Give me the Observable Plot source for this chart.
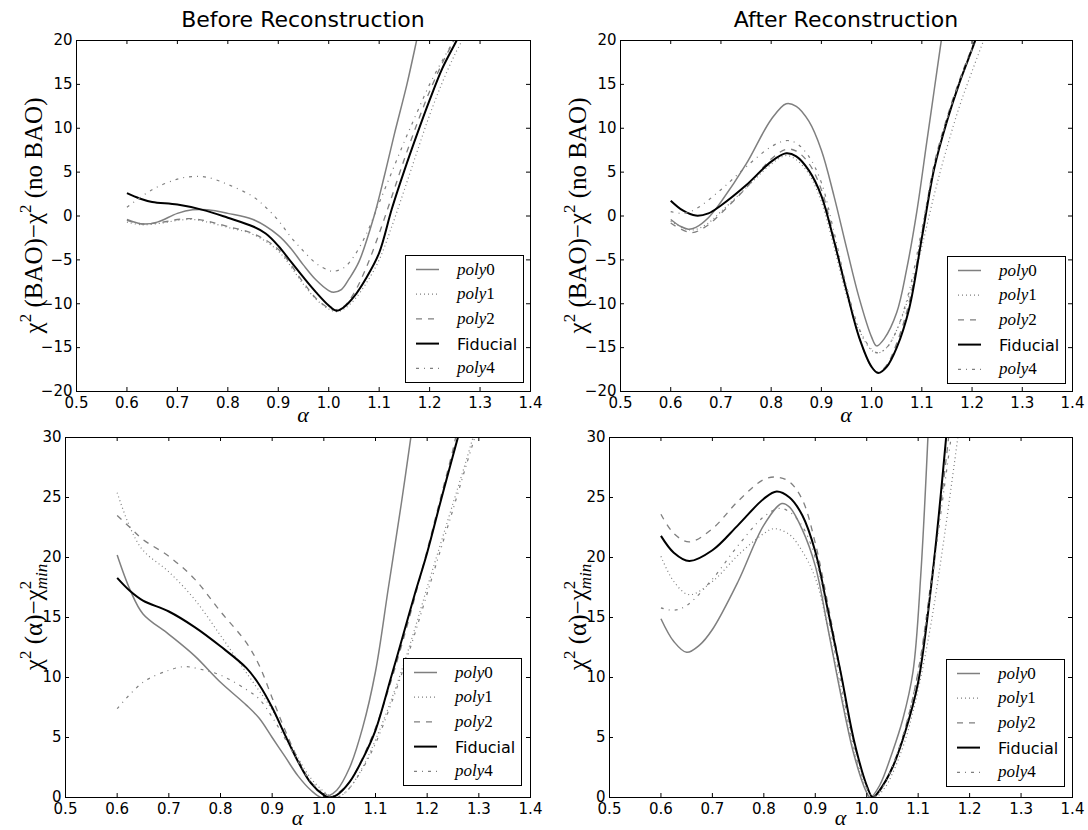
<!DOCTYPE html>
<html>
<head>
<meta charset="utf-8">
<script src="https://cdn.jsdelivr.net/npm/d3@7"></script>
<script src="https://cdn.jsdelivr.net/npm/@observablehq/plot@0.6"></script>
<style>
  body { margin: 0; background: #fff; }
  #root { position: relative; width: 1088px; height: 830px; overflow: hidden; background: #fff; }
  .panel { position: absolute; }
  .panel svg { max-width: none !important; }
  .legend { position: absolute; }
  #overlay { position: absolute; left: 0; top: 0; pointer-events: none; }
</style>
</head>
<body>
<div id="root"></div>
<script>
// ---------------- data ----------------
const alphaTicks = [0.5, 0.6, 0.7, 0.8, 0.9, 1.0, 1.1, 1.2, 1.3, 1.4];
const baoTicks = [-20, -15, -10, -5, 0, 5, 10, 15, 20];
const minTicks = [0, 5, 10, 15, 20, 25, 30];
const seriesNames = ["poly0", "poly1", "poly2", "Fiducial", "poly4"];
const panelTitles = ["Before Reconstruction", "After Reconstruction"];

// [alpha, chi2(BAO) - chi2(no BAO)] before reconstruction
const beforeBAO_poly0 = [[0.6,-0.4],[0.63,-0.9],[0.66,-0.7],[0.7,0.3],[0.73,0.7],[0.76,0.7],[0.8,0.3],[0.85,-0.4],[0.9,-2.2],[0.925,-3.7],[0.95,-5.6],[0.975,-7.3],[1.0,-8.5],[1.01,-8.7],[1.025,-8.4],[1.04,-7.2],[1.06,-5.2],[1.09,0.0],[1.11,4.5],[1.13,9.3],[1.155,15.0],[1.175,20.2],[1.18,21.5]];
const beforeBAO_poly1 = [[0.6,-0.7],[0.63,-1.0],[0.67,-0.8],[0.7,-0.5],[0.73,-0.4],[0.76,-0.7],[0.8,-1.3],[0.85,-2.1],[0.9,-4.0],[0.95,-7.8],[0.975,-9.5],[1.0,-10.6],[1.015,-10.9],[1.03,-10.6],[1.05,-9.6],[1.075,-7.6],[1.1,-5.0],[1.125,-1.2],[1.15,3.0],[1.175,7.3],[1.2,11.5],[1.225,15.2],[1.25,18.4],[1.27,20.6]];
const beforeBAO_poly2 = [[0.6,-0.5],[0.63,-0.9],[0.67,-0.7],[0.7,-0.4],[0.73,-0.3],[0.76,-0.6],[0.8,-1.2],[0.85,-2.0],[0.9,-3.8],[0.95,-7.6],[0.975,-9.4],[1.0,-10.5],[1.01,-10.7],[1.03,-10.3],[1.05,-8.8],[1.075,-5.8],[1.1,-2.0],[1.125,2.2],[1.15,6.5],[1.175,10.5],[1.2,14.2],[1.225,17.4],[1.25,20.2],[1.255,20.8]];
const beforeBAO_fid   = [[0.6,2.6],[0.625,2.0],[0.65,1.6],[0.7,1.3],[0.75,0.7],[0.8,-0.2],[0.85,-1.2],[0.875,-2.0],[0.9,-3.4],[0.925,-5.2],[0.95,-7.0],[0.975,-8.7],[1.0,-10.2],[1.015,-10.8],[1.03,-10.4],[1.05,-9.2],[1.075,-7.0],[1.1,-4.2],[1.125,0.8],[1.15,5.2],[1.175,9.3],[1.2,13.2],[1.225,16.8],[1.25,19.6],[1.26,20.7]];
const beforeBAO_poly4 = [[0.6,1.0],[0.65,3.0],[0.7,4.2],[0.73,4.5],[0.76,4.4],[0.8,3.6],[0.85,2.2],[0.875,1.0],[0.9,-0.5],[0.925,-2.4],[0.95,-4.0],[0.975,-5.4],[1.0,-6.2],[1.01,-6.3],[1.03,-5.9],[1.05,-4.6],[1.075,-2.0],[1.1,1.5],[1.125,5.0],[1.15,8.5],[1.175,11.8],[1.2,15.0],[1.225,17.7],[1.25,20.2],[1.26,21.2]];

// after reconstruction
const afterBAO_poly0 = [[0.6,-0.4],[0.62,-1.2],[0.635,-1.5],[0.65,-1.3],[0.675,-0.2],[0.7,1.6],[0.75,5.9],[0.8,11.0],[0.83,12.8],[0.85,12.5],[0.875,10.8],[0.9,7.5],[0.925,2.3],[0.95,-3.6],[0.975,-9.3],[1.0,-13.8],[1.01,-14.8],[1.025,-14.0],[1.05,-11.0],[1.07,-6.0],[1.09,0.5],[1.11,8.5],[1.125,14.5],[1.14,20.5],[1.145,22.5]];
const afterBAO_poly1 = [[0.6,-0.6],[0.64,-1.6],[0.67,-1.0],[0.7,0.5],[0.75,3.2],[0.8,5.9],[0.83,6.9],[0.85,6.4],[0.875,4.8],[0.9,1.6],[0.925,-3.5],[0.95,-9.0],[0.975,-13.0],[1.0,-15.3],[1.013,-15.6],[1.03,-15.0],[1.05,-13.0],[1.075,-9.0],[1.1,-3.5],[1.125,2.5],[1.15,7.8],[1.175,12.5],[1.2,16.5],[1.225,20.3]];
const afterBAO_poly2 = [[0.6,-0.8],[0.64,-1.9],[0.67,-1.2],[0.7,0.3],[0.75,3.2],[0.8,6.5],[0.83,7.6],[0.85,7.4],[0.875,6.0],[0.9,3.0],[0.925,-2.5],[0.95,-8.5],[0.975,-13.8],[1.0,-17.2],[1.013,-17.8],[1.03,-17.0],[1.05,-14.5],[1.075,-9.8],[1.1,-2.0],[1.125,6.0],[1.15,11.2],[1.175,15.5],[1.2,19.2],[1.21,20.6]];
const afterBAO_fid   = [[0.6,1.75],[0.625,0.6],[0.65,0.05],[0.675,0.3],[0.7,1.2],[0.75,3.5],[0.8,6.2],[0.83,7.15],[0.85,6.8],[0.875,5.2],[0.9,2.3],[0.925,-2.8],[0.95,-8.5],[0.975,-13.8],[1.0,-17.2],[1.013,-17.9],[1.03,-17.2],[1.05,-15.0],[1.075,-10.5],[1.1,-2.5],[1.125,5.5],[1.15,10.8],[1.175,15.2],[1.2,19.0],[1.21,20.6]];
const afterBAO_poly4 = [[0.6,0.5],[0.625,0.3],[0.65,0.8],[0.7,3.0],[0.75,5.6],[0.8,7.9],[0.83,8.6],[0.85,8.3],[0.875,6.8],[0.9,3.8],[0.925,-1.8],[0.95,-8.0],[0.975,-12.8],[1.0,-15.2],[1.013,-15.6],[1.03,-15.0],[1.05,-13.0],[1.075,-8.5],[1.1,-1.5],[1.125,5.8],[1.15,11.0],[1.175,15.3],[1.2,19.0],[1.21,20.5]];

// [alpha, chi2(alpha) - chi2_min] before reconstruction
const beforeMin_poly0 = [[0.6,20.2],[0.625,17.3],[0.65,15.3],[0.7,13.6],[0.75,11.8],[0.8,9.6],[0.85,7.7],[0.875,6.6],[0.9,5.0],[0.925,3.4],[0.95,1.8],[0.975,0.6],[0.995,0.0],[1.01,0.15],[1.025,0.6],[1.05,2.5],[1.075,5.8],[1.1,10.5],[1.125,17.5],[1.15,24.5],[1.17,30.5]];
const beforeMin_poly1 = [[0.6,25.4],[0.625,22.5],[0.65,20.6],[0.7,18.8],[0.75,16.5],[0.8,13.5],[0.85,10.4],[0.9,7.3],[0.925,5.3],[0.95,3.3],[0.975,1.6],[1.0,0.5],[1.02,0.0],[1.035,0.2],[1.05,0.8],[1.075,2.5],[1.1,4.8],[1.125,7.5],[1.15,10.5],[1.175,13.9],[1.2,17.5],[1.225,21.0],[1.25,24.5],[1.275,28.0],[1.29,30.2]];
const beforeMin_poly2 = [[0.6,23.5],[0.625,22.5],[0.65,21.5],[0.7,20.1],[0.75,18.2],[0.8,15.5],[0.85,12.9],[0.875,11.0],[0.9,8.3],[0.925,5.6],[0.95,3.2],[0.975,1.3],[1.0,0.25],[1.01,0.0],[1.025,0.3],[1.05,1.3],[1.075,3.3],[1.1,5.8],[1.125,9.0],[1.15,12.6],[1.175,16.5],[1.2,20.6],[1.225,24.8],[1.25,29.0],[1.256,30.2]];
const beforeMin_fid   = [[0.6,18.3],[0.625,17.2],[0.65,16.4],[0.7,15.5],[0.75,14.2],[0.8,12.6],[0.85,10.8],[0.875,9.4],[0.9,7.5],[0.925,5.2],[0.95,3.0],[0.975,1.2],[1.0,0.2],[1.01,0.0],[1.025,0.2],[1.05,1.3],[1.075,3.2],[1.1,5.6],[1.13,10.0],[1.15,13.0],[1.175,16.8],[1.2,20.4],[1.225,24.5],[1.25,28.5],[1.262,30.4]];
const beforeMin_poly4 = [[0.6,7.4],[0.65,9.6],[0.7,10.6],[0.73,10.9],[0.76,10.7],[0.8,10.2],[0.85,9.0],[0.875,8.2],[0.9,6.7],[0.925,4.9],[0.95,3.0],[0.975,1.3],[1.0,0.4],[1.02,0.0],[1.035,0.2],[1.05,0.8],[1.075,2.4],[1.1,4.5],[1.125,7.2],[1.15,10.2],[1.175,13.5],[1.2,17.0],[1.225,20.5],[1.25,24.0],[1.275,27.6],[1.295,30.4]];

// after reconstruction
const afterMin_poly0 = [[0.6,14.9],[0.625,13.0],[0.65,12.1],[0.675,12.7],[0.7,14.0],[0.75,18.0],[0.8,22.7],[0.835,24.5],[0.85,24.2],[0.875,22.3],[0.9,19.3],[0.925,14.0],[0.95,8.5],[0.975,3.6],[1.0,0.4],[1.007,0.0],[1.025,1.0],[1.05,3.8],[1.07,6.5],[1.09,10.5],[1.105,18.5],[1.12,31.0]];
const afterMin_poly1 = [[0.6,20.1],[0.625,18.0],[0.655,16.9],[0.7,18.0],[0.75,20.2],[0.8,22.0],[0.82,22.4],[0.85,21.9],[0.875,20.5],[0.9,18.3],[0.925,14.0],[0.95,8.8],[0.975,3.8],[1.0,0.7],[1.015,0.0],[1.035,0.8],[1.05,2.0],[1.075,4.8],[1.1,9.0],[1.125,14.5],[1.15,21.5],[1.178,30.3]];
const afterMin_poly2 = [[0.6,23.6],[0.625,22.0],[0.655,21.3],[0.7,22.4],[0.75,24.7],[0.8,26.5],[0.825,26.7],[0.85,26.3],[0.875,24.8],[0.9,21.2],[0.925,16.0],[0.95,10.3],[0.975,4.6],[1.0,1.0],[1.012,0.0],[1.03,0.8],[1.05,2.6],[1.075,5.8],[1.1,10.5],[1.125,18.0],[1.145,24.8],[1.16,30.3]];
const afterMin_fid   = [[0.6,21.8],[0.625,20.4],[0.655,19.7],[0.7,20.6],[0.75,22.7],[0.8,24.9],[0.825,25.5],[0.85,25.0],[0.875,23.5],[0.9,20.5],[0.925,15.5],[0.95,10.3],[0.975,4.8],[1.0,1.0],[1.012,0.0],[1.025,0.6],[1.05,2.5],[1.075,5.5],[1.1,9.6],[1.125,17.5],[1.14,23.5],[1.155,30.3]];
const afterMin_poly4 = [[0.6,15.8],[0.625,15.6],[0.65,16.0],[0.7,18.2],[0.75,21.0],[0.8,23.4],[0.83,24.1],[0.85,23.8],[0.875,22.6],[0.9,20.0],[0.925,15.0],[0.95,9.5],[0.975,4.2],[1.0,0.8],[1.012,0.0],[1.03,0.8],[1.05,2.6],[1.075,5.8],[1.1,10.5],[1.125,17.5],[1.145,24.0],[1.165,30.3]];

// ---------------- styles & layout ----------------
const GRAY = "#7f7f7f";
const TICK_FONT = "DejaVu Sans";
const TICK_SIZE = 15;
const lineStyles = {
  poly0:    {stroke: GRAY,   width: 1.5, dash: null},
  poly1:    {stroke: GRAY,   width: 1.2, dash: "1,3"},
  poly2:    {stroke: GRAY,   width: 1.3, dash: "6,6"},
  Fiducial: {stroke: "#000", width: 2.0, dash: null},
  poly4:    {stroke: GRAY,   width: 1.2, dash: "3,5,1,5"}
};

const panels = [
  {data: {poly0: beforeBAO_poly0, poly1: beforeBAO_poly1, poly2: beforeBAO_poly2, Fiducial: beforeBAO_fid, poly4: beforeBAO_poly4},
   yDomain: [-20, 20], yTicks: baoTicks, left: 0, top: 0, width: 544, height: 430, mt: 40, mr: 14, mb: 39, ml: 76,
   title: panelTitles[0], ylab: "bao", legend: [405, 255], xlabDy: 31},
  {data: {poly0: afterBAO_poly0, poly1: afterBAO_poly1, poly2: afterBAO_poly2, Fiducial: afterBAO_fid, poly4: afterBAO_poly4},
   yDomain: [-20, 20], yTicks: baoTicks, left: 544, top: 0, width: 544, height: 430, mt: 40, mr: 16, mb: 39, ml: 76,
   title: panelTitles[1], ylab: "bao", legend: [947, 256], xlabDy: 31},
  {data: {poly0: beforeMin_poly0, poly1: beforeMin_poly1, poly2: beforeMin_poly2, Fiducial: beforeMin_fid, poly4: beforeMin_poly4},
   yDomain: [0, 30], yTicks: minTicks, left: 0, top: 415, width: 544, height: 415, mt: 22, mr: 14, mb: 33, ml: 65,
   title: null, ylab: "min", legend: [403, 658], xlabDy: 28},
  {data: {poly0: afterMin_poly0, poly1: afterMin_poly1, poly2: afterMin_poly2, Fiducial: afterMin_fid, poly4: afterMin_poly4},
   yDomain: [0, 30], yTicks: minTicks, left: 544, top: 415, width: 544, height: 415, mt: 22, mr: 16, mb: 33, ml: 65,
   title: null, ylab: "min", legend: [946, 659], xlabDy: 28}
];

const minusFmt = d => d < 0 ? "\u2212" + Math.abs(d) : String(d);
const root = document.getElementById("root");

function makePlot(p) {
  const fw = p.width - p.ml - p.mr, fh = p.height - p.mt - p.mb;
  const marks = [];
  for (const name of seriesNames) {
    const s = lineStyles[name];
    marks.push(Plot.line(p.data[name], {
      x: d => d[0], y: d => d[1], curve: "catmull-rom", clip: true,
      stroke: s.stroke, strokeWidth: s.width, strokeDasharray: s.dash,
      strokeLinecap: "butt", strokeLinejoin: "round"
    }));
  }
  marks.push(Plot.frame({stroke: "#000", strokeWidth: 1}));
  marks.push(Plot.tickX(alphaTicks, {x: d => d, insetTop: fh - 4, stroke: "#000"}));
  marks.push(Plot.tickX(alphaTicks, {x: d => d, insetBottom: fh - 4, stroke: "#000"}));
  marks.push(Plot.tickY(p.yTicks, {y: d => d, insetRight: fw - 4, stroke: "#000"}));
  marks.push(Plot.tickY(p.yTicks, {y: d => d, insetLeft: fw - 4, stroke: "#000"}));
  marks.push(Plot.axisX({ticks: alphaTicks, tickFormat: d3.format(".1f"), tickSize: 0, tickPadding: 6, anchor: "bottom", label: null,
    fontSize: TICK_SIZE, fontFamily: TICK_FONT, fill: "#000"}));
  marks.push(Plot.axisY({ticks: p.yTicks, tickFormat: minusFmt, tickSize: 0, tickPadding: 4, anchor: "left", label: null,
    fontSize: TICK_SIZE, fontFamily: TICK_FONT, fill: "#000"}));
  const svg = Plot.plot({
    width: p.width, height: p.height,
    marginTop: p.mt, marginRight: p.mr, marginBottom: p.mb, marginLeft: p.ml,
    x: {domain: [0.5, 1.4]},
    y: {domain: p.yDomain},
    style: {fontFamily: TICK_FONT, fontSize: TICK_SIZE + "px", color: "#000", background: "transparent", overflow: "visible"},
    marks
  });
  svg.setAttribute("font-family", TICK_FONT);
  svg.setAttribute("font-size", TICK_SIZE);
  d3.select(svg).selectAll("text")
    .attr("font-family", TICK_FONT).attr("font-size", TICK_SIZE)
    .style("font-family", TICK_FONT).style("font-size", TICK_SIZE + "px");
  d3.select(svg).selectAll("g[aria-label$='tick label']")
    .attr("font-family", TICK_FONT).attr("font-size", TICK_SIZE)
    .style("font-family", TICK_FONT).style("font-size", TICK_SIZE + "px");
  return svg;
}

for (const p of panels) {
  const el = makePlot(p);
  const wrap = document.createElement("div");
  wrap.className = "panel";
  wrap.style.left = p.left + "px";
  wrap.style.top = p.top + "px";
  wrap.style.width = p.width + "px";
  wrap.style.height = p.height + "px";
  wrap.appendChild(el);
  root.appendChild(wrap);
}

// ---------------- overlay: titles & axis labels ----------------
const ov = d3.select(root).append("svg").attr("id", "overlay").attr("width", 1088).attr("height", 830);

for (const p of panels) {
  const cx = p.left + p.ml + (p.width - p.ml - p.mr) / 2;
  const cy = p.top + p.mt + (p.height - p.mt - p.mb) / 2;
  const bottom = p.top + p.height - p.mb;
  if (p.title) {
    ov.append("text").attr("x", cx).attr("y", 27).attr("text-anchor", "middle")
      .attr("font-family", "DejaVu Sans").attr("font-size", 22).attr("fill", "#000").text(p.title);
  }
  ov.append("text").attr("x", cx).attr("y", bottom + p.xlabDy).attr("text-anchor", "middle")
    .attr("font-family", "Liberation Serif").attr("font-style", "italic").attr("font-size", 22).attr("fill", "#000").text("\u03b1");

  const lx = p.left + 42;
  const t = ov.append("text").attr("transform", `translate(${lx},${cy}) rotate(-90)`)
    .attr("text-anchor", "middle").attr("font-family", "Liberation Serif").attr("font-size", 25).attr("fill", "#000");
  if (p.ylab === "bao") {
    t.append("tspan").text("\u03c7");
    t.append("tspan").attr("dy", -11).attr("font-size", 17).text("2");
    t.append("tspan").attr("dy", 11).text(" (BAO)\u2212\u03c7");
    t.append("tspan").attr("dy", -11).attr("font-size", 17).text("2");
    t.append("tspan").attr("dy", 11).text(" (no BAO)");
  } else {
    t.append("tspan").text("\u03c7");
    t.append("tspan").attr("dy", -11).attr("font-size", 17).text("2");
    t.append("tspan").attr("dy", 11).text(" (\u03b1)\u2212\u03c7");
    t.append("tspan").attr("dy", -11).attr("font-size", 17).text("2");
    t.append("tspan").attr("dy", 16).attr("dx", -8.5).attr("font-size", 17).attr("font-style", "italic").text("min");
  }
}

// ---------------- legends ----------------
for (const p of panels) {
  const [lx, ly] = p.legend;
  const lw = 119, lh = 128;
  const div = d3.select(root).append("div").attr("class", "legend")
    .style("left", lx + "px").style("top", ly + "px");
  const svg = div.append("svg").attr("width", lw).attr("height", lh).style("display", "block");
  svg.append("rect").attr("x", 0.5).attr("y", 0.5).attr("width", lw - 1).attr("height", lh - 1)
    .attr("fill", "#fff").attr("stroke", "#000").attr("stroke-width", 1);
  seriesNames.forEach((name, i) => {
    const y = 14.5 + i * 24.7;
    const s = lineStyles[name];
    svg.append("line").attr("x1", 11).attr("x2", 34).attr("y1", y).attr("y2", y)
      .attr("stroke", s.stroke).attr("stroke-width", s.width)
      .attr("stroke-dasharray", s.dash);
    if (name === "Fiducial") {
      svg.append("text").attr("x", 52).attr("y", y + 6).attr("font-family", "DejaVu Sans")
        .attr("font-size", 16).attr("fill", "#000").text(name);
    } else {
      const tx = svg.append("text").attr("x", 52).attr("y", y + 5).attr("font-family", "Liberation Serif")
        .attr("font-size", 17).attr("fill", "#000");
      tx.append("tspan").attr("font-style", "italic").text(name.slice(0, 4));
      tx.append("tspan").text(name.slice(4));
    }
  });
}
</script>
</body>
</html>
